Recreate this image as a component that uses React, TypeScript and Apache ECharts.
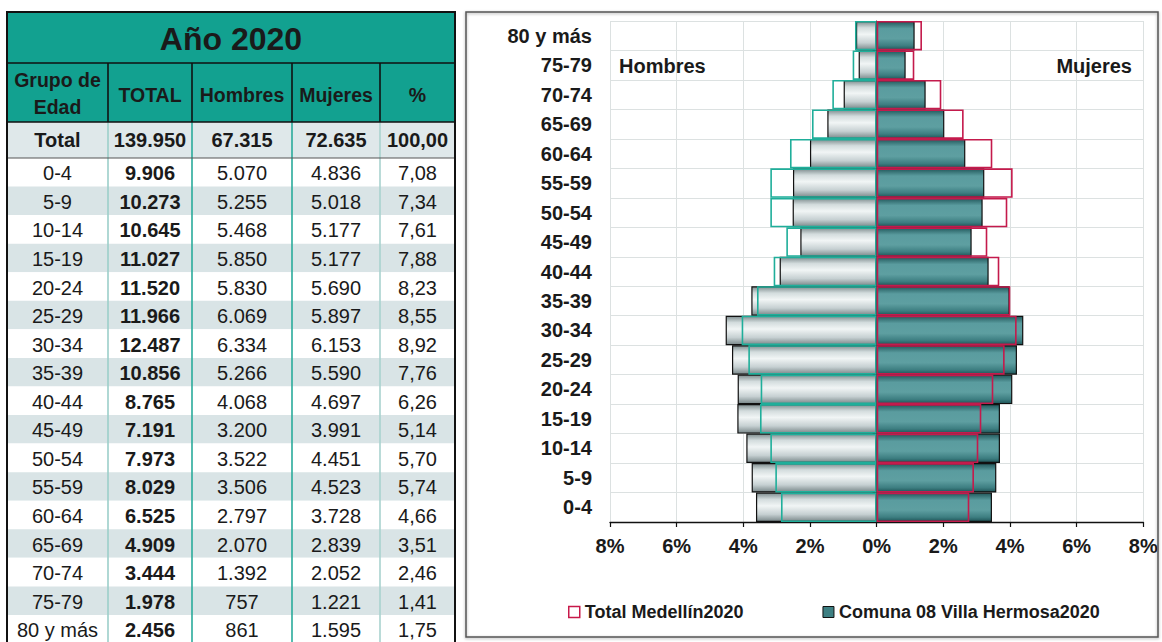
import React, { useEffect, useRef } from "react";
import * as echarts from "echarts";

// ---------- Data ----------
const ageGroups = ["0-4", "5-9", "10-14", "15-19", "20-24", "25-29", "30-34", "35-39", "40-44", "45-49", "50-54", "55-59", "60-64", "65-69", "70-74", "75-79", "80 y más"];
const totalCounts = [9906, 10273, 10645, 11027, 11520, 11966, 12487, 10856, 8765, 7191, 7973, 8029, 6525, 4909, 3444, 1978, 2456];
const menCounts = [5070, 5255, 5468, 5850, 5830, 6069, 6334, 5266, 4068, 3200, 3522, 3506, 2797, 2070, 1392, 757, 861];
const womenCounts = [4836, 5018, 5177, 5177, 5690, 5897, 6153, 5590, 4697, 3991, 4451, 4523, 3728, 2839, 2052, 1221, 1595];
const shareOfTotal = [7.08, 7.34, 7.61, 7.88, 8.23, 8.55, 8.92, 7.76, 6.26, 5.14, 5.7, 5.74, 4.66, 3.51, 2.46, 1.41, 1.75];
const grandTotal = 139950;
const grandMen = 67315;
const grandWomen = 72635;
const grandShare = 100;

const tableTitle = "Año 2020";
const tableHeaders = ["Grupo de\nEdad", "TOTAL", "Hombres", "Mujeres", "%"];
const totalRowLabel = "Total";

// pyramid (% of population)
const comunaMenPct = [3.62, 3.75, 3.91, 4.18, 4.17, 4.34, 4.53, 3.76, 2.91, 2.29, 2.52, 2.51, 2.0, 1.48, 0.99, 0.54, 0.62];
const comunaWomenPct = [3.46, 3.59, 3.7, 3.7, 4.07, 4.21, 4.4, 3.99, 3.36, 2.85, 3.18, 3.23, 2.66, 2.03, 1.47, 0.87, 1.14];
const medellinMenPct = [2.87, 3.04, 3.19, 3.5, 3.48, 3.85, 4.05, 3.59, 3.09, 2.71, 3.19, 3.19, 2.6, 1.94, 1.33, 0.72, 0.65];
const medellinWomenPct = [2.78, 2.92, 3.05, 3.14, 3.5, 3.84, 4.2, 4.01, 3.68, 3.32, 3.92, 4.08, 3.47, 2.61, 1.94, 1.13, 1.36];

const seriesMedellin = "Total Medellín2020";
const seriesComuna = "Comuna 08 Villa Hermosa2020";
const sideLeft = "Hombres";
const sideRight = "Mujeres";
const axisMin = -8;
const axisMax = 8;
const axisStep = 2;

// ---------- Styles ----------
const FONT = '"Liberation Sans", Arial, Helvetica, sans-serif';
const TEAL = "#12a190";
const DARK = "#1a1a1a";

const fmtInt = (n: number) => String(n).replace(/\B(?=(\d{3})+(?!\d))/g, ".");
const fmtPct = (n: number) => n.toFixed(2).replace(".", ",");

function buildTable(): any[] {
  const colX = [7, 108, 192, 292, 380, 455];
  const top = 12;
  const titleBottom = 63;
  const headerBottom = 122;
  const totalBottom = 158;
  const rowH = 28.56;
  const tableBottom = totalBottom + rowH * ageGroups.length;
  const width = colX[5] - colX[0];
  const els: any[] = [];
  const cx = (c: number) => (colX[c] + colX[c + 1]) / 2;
  const txt = (text: string, x: number, y: number, bold: boolean, size = 20, lh?: number) => ({
    type: "text",
    x,
    y,
    z: 10,
    style: {
      text,
      fill: DARK,
      font: `${bold ? "bold " : ""}${size}px ${FONT}`,
      textAlign: "center",
      textVerticalAlign: "middle",
      lineHeight: lh,
    },
  });
  // backgrounds
  els.push({ type: "rect", shape: { x: colX[0], y: top, width, height: titleBottom - top }, style: { fill: TEAL } });
  els.push({ type: "rect", shape: { x: colX[0], y: titleBottom, width, height: headerBottom - titleBottom }, style: { fill: TEAL } });
  els.push({ type: "rect", shape: { x: colX[0], y: headerBottom, width, height: totalBottom - headerBottom }, style: { fill: "#dfe8ea" } });
  ageGroups.forEach((_, i) => {
    els.push({
      type: "rect",
      shape: { x: colX[0], y: totalBottom + i * rowH, width, height: rowH },
      style: { fill: i % 2 === 1 ? "#d9e4e6" : "#ffffff" },
    });
  });
  // vertical lines
  const bodyColors = ["", "#9ccfca", "#2aab9b", "#2aab9b", "#a9d2cf"];
  for (let c = 1; c <= 4; c++) {
    els.push({ type: "line", z: 5, shape: { x1: colX[c], y1: titleBottom, x2: colX[c], y2: headerBottom }, style: { stroke: "#111", lineWidth: 1.6 } });
    els.push({ type: "line", z: 5, shape: { x1: colX[c], y1: headerBottom, x2: colX[c], y2: tableBottom }, style: { stroke: bodyColors[c], lineWidth: 1.6 } });
  }
  // horizontal lines
  els.push({ type: "line", z: 6, shape: { x1: colX[0], y1: titleBottom, x2: colX[5], y2: titleBottom }, style: { stroke: "#111", lineWidth: 1.6 } });
  els.push({ type: "line", z: 6, shape: { x1: colX[0], y1: headerBottom, x2: colX[5], y2: headerBottom }, style: { stroke: "#111", lineWidth: 1.6 } });
  els.push({ type: "line", z: 6, shape: { x1: colX[0], y1: totalBottom, x2: colX[5], y2: totalBottom }, style: { stroke: "#555", lineWidth: 1 } });
  // outer border
  els.push({ type: "rect", z: 7, shape: { x: colX[0], y: top, width, height: tableBottom - top }, style: { fill: "none", stroke: "#111", lineWidth: 2 } });
  // texts
  els.push(txt(tableTitle, (colX[0] + colX[5]) / 2, (top + titleBottom) / 2 + 1, true, 32));
  tableHeaders.forEach((h, c) => {
    els.push(txt(h, cx(c), c === 0 ? 93 : 95, true, 19.5, 27));
  });
  const ty = (headerBottom + totalBottom) / 2;
  els.push(txt(totalRowLabel, cx(0), ty, true));
  els.push(txt(fmtInt(grandTotal), cx(1), ty, true));
  els.push(txt(fmtInt(grandMen), cx(2), ty, true));
  els.push(txt(fmtInt(grandWomen), cx(3), ty, true));
  els.push(txt(fmtPct(grandShare), cx(4), ty, true));
  ageGroups.forEach((g, i) => {
    const y = totalBottom + i * rowH + rowH / 2 + 1;
    els.push(txt(g, cx(0), y, false));
    els.push(txt(fmtInt(totalCounts[i]), cx(1), y, true));
    els.push(txt(fmtInt(menCounts[i]), cx(2), y, false));
    els.push(txt(fmtInt(womenCounts[i]), cx(3), y, false));
    els.push(txt(fmtPct(shareOfTotal[i]), cx(4), y, false));
  });
  return els;
}

export default function App() {
  const ref = useRef<HTMLDivElement>(null);
  useEffect(() => {
    if (!ref.current) return;
    const chart = echarts.init(ref.current, undefined, { renderer: "svg" });
    const menGrad = new echarts.graphic.LinearGradient(0, 0, 0, 1, [
      { offset: 0, color: "#7f8d8f" },
      { offset: 0.22, color: "#d3dcdd" },
      { offset: 0.45, color: "#f1f5f5" },
      { offset: 0.75, color: "#c6d0d2" },
      { offset: 1, color: "#7a888a" },
    ]);
    const womenGrad = new echarts.graphic.LinearGradient(0, 0, 0, 1, [
      { offset: 0, color: "#22595c" },
      { offset: 0.25, color: "#5a9c9f" },
      { offset: 0.6, color: "#5e9fa1" },
      { offset: 0.85, color: "#3d7e81" },
      { offset: 1, color: "#1f5558" },
    ]);
    const barCommon = {
      type: "bar",
      barWidth: "100%",
      barGap: "-100%",
      silent: true,
      emphasis: { disabled: true },
    };
    const option: any = {
      animation: false,
      textStyle: { fontFamily: FONT },
      grid: { left: 610, right: 18.7, top: 21, bottom: 120 },
      xAxis: {
        type: "value",
        min: axisMin,
        max: axisMax,
        interval: axisStep,
        axisLine: { show: true, onZero: false, lineStyle: { color: "#111", width: 1.3 } },
        axisTick: { show: true, length: 5, lineStyle: { color: "#111", width: 1.2 } },
        axisLabel: {
          formatter: (v: number) => Math.abs(v) + "%",
          fontSize: 20,
          fontWeight: "bold",
          color: DARK,
          margin: 14,
          fontFamily: FONT,
        },
        splitLine: { show: true, lineStyle: { color: "#dce1e1", width: 1 } },
      },
      yAxis: [
        {
          type: "category",
          data: ageGroups,
          position: "left",
          axisLine: { show: false, onZero: false },
          axisTick: { show: false },
          axisLabel: { fontSize: 20, fontWeight: "bold", color: DARK, margin: 18, fontFamily: FONT },
          splitLine: { show: true, lineStyle: { color: "#dce1e1", width: 1 } },
        },
        {
          type: "category",
          data: ageGroups,
          position: "left",
          axisLine: { show: true, onZero: true, lineStyle: { color: "#111", width: 1.2 } },
          axisTick: { show: true, length: 4, lineStyle: { color: "#111" } },
          axisLabel: { show: false },
          splitLine: { show: false },
        },
      ],
      legend: {
        left: 563,
        top: 598,
        itemWidth: 11,
        itemHeight: 11,
        itemGap: 79,
        selectedMode: false,
        textStyle: { fontSize: 18, fontWeight: "bold", color: DARK, fontFamily: FONT },
        data: [
          { name: seriesMedellin, icon: "rect", itemStyle: { color: "#ffffff", borderColor: "#c8194a", borderWidth: 1.5 } },
          { name: seriesComuna, icon: "rect", itemStyle: { color: "#3d7f82", borderColor: "#111", borderWidth: 1 } },
        ],
      },
      series: [
        { ...barCommon, name: seriesComuna, data: comunaMenPct.map((v) => -v), itemStyle: { color: menGrad, borderColor: "#111", borderWidth: 1.2 } },
        { ...barCommon, name: seriesComuna, data: comunaWomenPct, itemStyle: { color: womenGrad, borderColor: "#111", borderWidth: 1.2 } },
        { ...barCommon, name: seriesMedellin, data: medellinMenPct.map((v) => -v), itemStyle: { color: "rgba(0,0,0,0)", borderColor: "#1fae9a", borderWidth: 1.6 } },
        { ...barCommon, name: seriesMedellin, data: medellinWomenPct, itemStyle: { color: "rgba(0,0,0,0)", borderColor: "#c41a4c", borderWidth: 1.6 } },
      ],
      graphic: [
        ...buildTable(),
        {
          type: "rect",
          z: 1,
          shape: { x: 466, y: 12, width: 692, height: 625 },
          style: { fill: "none", stroke: "#555", lineWidth: 1.5, shadowBlur: 3, shadowColor: "rgba(0,0,0,0.35)", shadowOffsetY: 1 },
        },
        {
          type: "text",
          x: 619,
          y: 66,
          z: 10,
          style: { text: sideLeft, fill: DARK, font: `bold 20px ${FONT}`, textAlign: "left", textVerticalAlign: "middle" },
        },
        {
          type: "text",
          x: 1132,
          y: 66,
          z: 10,
          style: { text: sideRight, fill: DARK, font: `bold 20px ${FONT}`, textAlign: "right", textVerticalAlign: "middle" },
        },
      ],
    };
    chart.setOption(option);
    return () => chart.dispose();
  }, []);
  return (
    <div
      ref={ref}
      style={{ position: "absolute", left: 0, top: 0, width: 1162, height: 642, background: "#ffffff" }}
    />
  );
}
